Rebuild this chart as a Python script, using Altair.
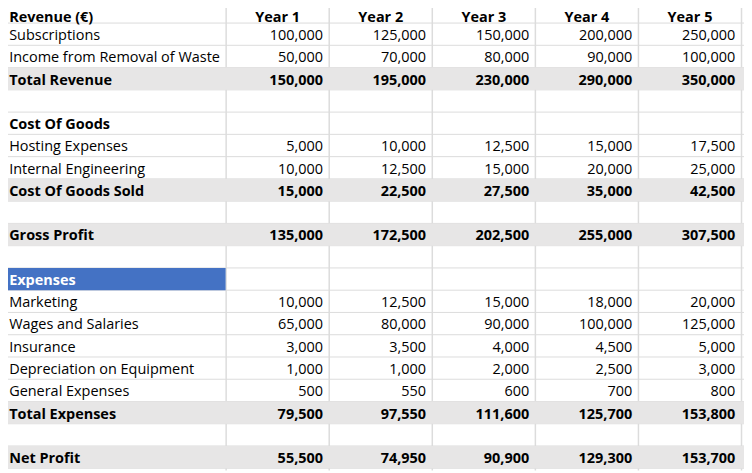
import altair as alt
import pandas as pd

# ---- data ----
row_labels = [
    "Revenue (€)", "Subscriptions", "Income from Removal of Waste", "Total Revenue", "",
    "Cost Of Goods", "Hosting Expenses", "Internal Engineering", "Cost Of Goods Sold", "",
    "Gross Profit", "", "Expenses", "Marketing", "Wages and Salaries", "Insurance",
    "Depreciation on Equipment", "General Expenses", "Total Expenses", "", "Net Profit",
]
year_headers = ["Year 1", "Year 2", "Year 3", "Year 4", "Year 5"]
subscriptions = [100000, 125000, 150000, 200000, 250000]
waste_income = [50000, 70000, 80000, 90000, 100000]
total_revenue = [150000, 195000, 230000, 290000, 350000]
hosting = [5000, 10000, 12500, 15000, 17500]
engineering = [10000, 12500, 15000, 20000, 25000]
cogs = [15000, 22500, 27500, 35000, 42500]
gross_profit = [135000, 172500, 202500, 255000, 307500]
marketing = [10000, 12500, 15000, 18000, 20000]
wages = [65000, 80000, 90000, 100000, 125000]
insurance = [3000, 3500, 4000, 4500, 5000]
depreciation = [1000, 1000, 2000, 2500, 3000]
general = [500, 550, 600, 700, 800]
total_expenses = [79500, 97550, 111600, 125700, 153800]
net_profit = [55500, 74950, 90900, 129300, 153700]

row_values = {
    1: subscriptions, 2: waste_income, 3: total_revenue, 6: hosting, 7: engineering,
    8: cogs, 10: gross_profit, 13: marketing, 14: wages, 15: insurance,
    16: depreciation, 17: general, 18: total_expenses, 20: net_profit,
}
bold_rows = [0, 3, 5, 8, 10, 12, 18, 20]
grey_rows = [3, 8, 10, 18, 20]
blue_rows = [12]

# ---- layout (column units: year column j spans [j, j+1]) ----
X_MIN, X_MAX = -2.193, 5.024
Y_MIN, Y_MAX = 0.08, 21.1
FONT = "Open Sans"
FS = 14.6
BASE_OFF = 0.235
TOP_ROW_OFF = 0.06   # header row text sits a little lower so it stays inside the page

xs = alt.Scale(domain=[X_MIN, X_MAX])
ys = alt.Scale(domain=[Y_MIN, Y_MAX], reverse=True)
nrows = len(row_labels)

hlines = pd.DataFrame({"y": list(range(nrows + 1)), "x": X_MIN, "x2": X_MAX})
vlines = pd.DataFrame({"x": list(range(6)), "y": Y_MIN, "y2": Y_MAX})
grey = pd.DataFrame({"y": grey_rows, "y2": [r + 1 for r in grey_rows], "x": X_MIN, "x2": X_MAX})
blue = pd.DataFrame({"y": blue_rows, "y2": [r + 1 for r in blue_rows], "x": X_MIN, "x2": -0.005})

lab = pd.DataFrame({
    "row": list(range(nrows)),
    "label": row_labels,
})
lab["ty"] = [r + 1 - (TOP_ROW_OFF if r == 0 else BASE_OFF) for r in lab["row"]]
lab["x"] = X_MIN + 0.088
lab["bold"] = lab["row"].isin(bold_rows)
lab["blue"] = lab["row"].isin(blue_rows)

hdr = pd.DataFrame({"col": list(range(5)), "label": year_headers})
hdr["x"] = hdr["col"] + 0.5
hdr["ty"] = 1 - TOP_ROW_OFF

vals = []
for r, arr in row_values.items():
    for j, v in enumerate(arr):
        vals.append({"row": r, "col": j, "value": v, "bold": r in bold_rows})
vals = pd.DataFrame(vals)
vals["x"] = vals["col"] + 1 - 0.06
vals["ty"] = vals["row"] + 1 - BASE_OFF

GRID = "#dcdcdc"

h = alt.Chart(hlines).mark_rule(color=GRID, strokeWidth=1).encode(
    x=alt.X("x:Q", scale=xs, axis=None), x2="x2:Q",
    y=alt.Y("y:Q", scale=ys, axis=None))
v = alt.Chart(vlines).mark_rule(color=GRID, strokeWidth=1.5).encode(
    x=alt.X("x:Q", scale=xs, axis=None),
    y=alt.Y("y:Q", scale=ys, axis=None), y2="y2:Q")
g = alt.Chart(grey).mark_rect(color="#e7e6e6").encode(
    x=alt.X("x:Q", scale=xs, axis=None), x2="x2:Q",
    y=alt.Y("y:Q", scale=ys, axis=None), y2="y2:Q")
b = alt.Chart(blue).mark_rect(color="#4472c4").encode(
    x=alt.X("x:Q", scale=xs, axis=None), x2="x2:Q",
    y=alt.Y("y:Q", scale=ys, axis=None), y2="y2:Q")

def txt(df, align, bold, color="#000000"):
    return alt.Chart(df).mark_text(
        align=align, baseline="alphabetic", font=FONT, fontSize=FS,
        fontWeight="bold" if bold else "normal", color=color,
    )

lab_n = txt(lab[~lab["bold"]], "left", False).encode(
    x=alt.X("x:Q", scale=xs, axis=None), y=alt.Y("ty:Q", scale=ys, axis=None), text="label:N")
lab_b = txt(lab[lab["bold"] & ~lab["blue"]], "left", True).encode(
    x=alt.X("x:Q", scale=xs, axis=None), y=alt.Y("ty:Q", scale=ys, axis=None), text="label:N")
lab_w = txt(lab[lab["blue"]], "left", True, "#ffffff").encode(
    x=alt.X("x:Q", scale=xs, axis=None), y=alt.Y("ty:Q", scale=ys, axis=None), text="label:N")
hdr_t = txt(hdr, "center", True).encode(
    x=alt.X("x:Q", scale=xs, axis=None), y=alt.Y("ty:Q", scale=ys, axis=None), text="label:N")
val_n = txt(vals[~vals["bold"]], "right", False).encode(
    x=alt.X("x:Q", scale=xs, axis=None), y=alt.Y("ty:Q", scale=ys, axis=None),
    text=alt.Text("value:Q", format=","))
val_b = txt(vals[vals["bold"]], "right", True).encode(
    x=alt.X("x:Q", scale=xs, axis=None), y=alt.Y("ty:Q", scale=ys, axis=None),
    text=alt.Text("value:Q", format=","))

chart = alt.layer(h, v, g, b, lab_n, lab_b, lab_w, hdr_t, val_n, val_b).properties(
    width=752, height=473,
    padding={"left": -8, "top": -8, "right": 0, "bottom": 0},
    autosize=alt.AutoSizeParams(type="none"),
    background="#ffffff",
).configure_view(stroke=None)

chart.save("out.html", embed_options={"renderer": "svg", "actions": False})
